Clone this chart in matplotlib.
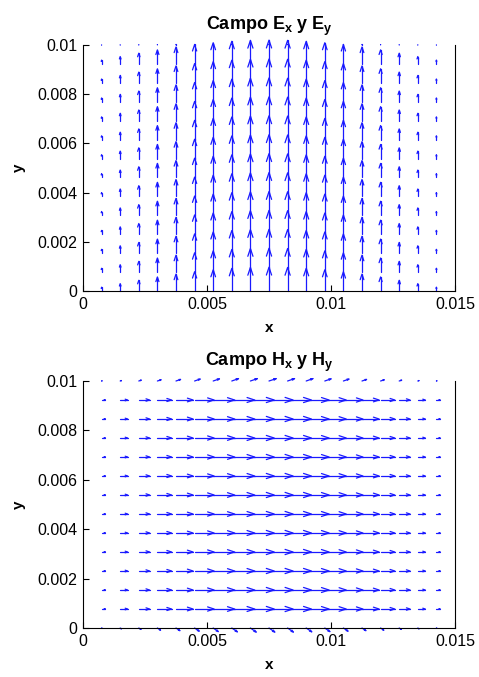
import numpy as np
import matplotlib
matplotlib.use("Agg")
import matplotlib.pyplot as plt
from matplotlib.collections import LineCollection

plt.rcParams['font.family'] = ['Liberation Sans', 'DejaVu Sans']
plt.rcParams['mathtext.fontset'] = 'custom'
plt.rcParams['mathtext.rm'] = 'Liberation Sans:bold'
plt.rcParams['mathtext.bf'] = 'Liberation Sans:bold'
plt.rcParams['mathtext.it'] = 'Liberation Sans:bold'

# ---- data ----
x_pos = [0.00075, 0.0015, 0.00225, 0.003, 0.00375, 0.0045, 0.00525, 0.006, 0.00675, 0.0075,
         0.00825, 0.009, 0.00975, 0.0105, 0.01125, 0.012, 0.01275, 0.0135, 0.01425]
y_pos = [0.0, 0.000769, 0.001538, 0.002308, 0.003077, 0.003846, 0.004615, 0.005385,
         0.006154, 0.006923, 0.007692, 0.008462, 0.009231, 0.01]

# E field: Ey amplitude per column (relative), row factor per row
Ey_col = [0.16, 0.31, 0.45, 0.59, 0.71, 0.81, 0.89, 0.95, 0.99, 1.0,
          0.99, 0.95, 0.89, 0.81, 0.71, 0.59, 0.45, 0.31, 0.16]
Ey_row = [1, 1, 1, 1, 1, 1, 1, 1, 1, 1, 1, 1, 1, 0.03]

# H field: Hx amplitude per column in interior rows
Hx_col = [0.16, 0.31, 0.45, 0.59, 0.71, 0.81, 0.89, 0.95, 0.99, 1.0,
          0.99, 0.95, 0.89, 0.81, 0.71, 0.59, 0.45, 0.31, 0.16]
Hx_row = [0, 1, 1, 1, 1, 1, 1, 1, 1, 1, 1, 1, 1, 0]
# boundary rows (y = 0 and y = 0.01)
Hbot_x = [0.02, 0.05, 0.09, 0.13, 0.16, 0.19, 0.21, 0.23, 0.24, 0.24,
          0.24, 0.23, 0.21, 0.19, 0.16, 0.13, 0.09, 0.05, 0.02]
Hbot_y = [-0.015, -0.035, -0.06, -0.09, -0.11, -0.13, -0.15, -0.16, -0.17, -0.17,
          -0.17, -0.16, -0.15, -0.13, -0.11, -0.09, -0.06, -0.035, -0.015]
Htop_x = [0.02, 0.05, 0.1, 0.15, 0.19, 0.23, 0.26, 0.28, 0.29, 0.3,
          0.29, 0.28, 0.26, 0.23, 0.19, 0.15, 0.1, 0.05, 0.02]
Htop_y = [0.007, 0.018, 0.035, 0.05, 0.065, 0.08, 0.09, 0.1, 0.1, 0.1,
          0.1, 0.1, 0.09, 0.08, 0.065, 0.05, 0.035, 0.018, 0.007]

xticks = [0, 0.005, 0.01, 0.015]
xticklabels = ['0', '0.005', '0.01', '0.015']
yticks = [0, 0.002, 0.004, 0.006, 0.008, 0.01]
yticklabels = ['0', '0.002', '0.004', '0.006', '0.008', '0.01']

titles = [r'Campo E$_{x}$ y E$_{y}$', r'Campo H$_{x}$ y H$_{y}$']

# ---- build grids ----
X, Y = np.meshgrid(np.array(x_pos), np.array(y_pos))
EU = np.zeros_like(X)
EV = np.outer(np.array(Ey_row), np.array(Ey_col))
HU = np.outer(np.array(Hx_row), np.array(Hx_col))
HV = np.zeros_like(X)
HU[0, :] = Hbot_x
HV[0, :] = Hbot_y
HU[-1, :] = Htop_x
HV[-1, :] = Htop_y


def matlab_quiver(ax, X, Y, U, V, color='#1a1aff', lw=0.9):
    """MATLAB-style quiver: autoscaled shafts with open arrowheads."""
    delx = np.diff(np.unique(X)).mean()
    dely = np.diff(np.unique(Y)).mean()
    ln = np.sqrt((U ** 2 + V ** 2) / (delx ** 2 + dely ** 2))
    s = 0.9 / ln.max()
    u = U * s
    v = V * s
    alpha, beta = 0.33, 0.33
    segs = []
    for xi, yi, ui, vi in zip(X.ravel(), Y.ravel(), u.ravel(), v.ravel()):
        segs.append([(xi, yi), (xi + ui, yi + vi)])
        segs.append([(xi + ui - alpha * (ui + beta * vi), yi + vi - alpha * (vi - beta * ui)),
                     (xi + ui, yi + vi),
                     (xi + ui - alpha * (ui - beta * vi), yi + vi - alpha * (vi + beta * ui))])
    lc = LineCollection(segs, colors=color, linewidths=lw, clip_on=False,
                        capstyle='round', joinstyle='round')
    ax.add_collection(lc)


W, H = 479, 677
fig = plt.figure(figsize=(W / 100, H / 100), dpi=100)
ax1 = fig.add_axes([83 / W, 1 - 291 / H, 372 / W, 246 / H])
ax2 = fig.add_axes([83 / W, 1 - 628 / H, 372 / W, 247 / H])

for ax, (U, V), title in zip([ax1, ax2], [(EU, EV), (HU, HV)], titles):
    matlab_quiver(ax, X, Y, U, V)
    ax.set_xlim(0, 0.015)
    ax.set_ylim(0, 0.01)
    ax.set_xticks(xticks)
    ax.set_xticklabels(xticklabels)
    ax.set_yticks(yticks)
    ax.set_yticklabels(yticklabels)
    ax.tick_params(direction='in', length=4, width=0.8, labelsize=11.5, pad=4,
                   top=False, right=False)
    ax.spines['top'].set_visible(False)
    for s in ['left', 'bottom', 'right']:
        ax.spines[s].set_linewidth(0.8)
    ax.set_title(title, fontsize=13, fontweight='bold', pad=11)
    ax.set_xlabel('x', fontsize=11, fontweight='bold', labelpad=7)
    ax.set_ylabel('y', fontsize=11, fontweight='bold', labelpad=8)

fig.savefig('out.png', dpi=100)
